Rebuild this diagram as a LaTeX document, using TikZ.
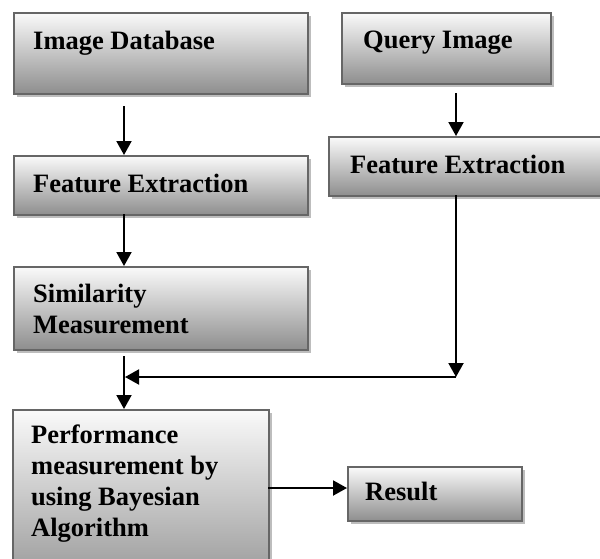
\documentclass[tikz,border=0pt]{standalone}
\usepackage{fontspec}
\setmainfont{Liberation Serif}
\usetikzlibrary{arrows.meta,shadows}

\definecolor{boxtop}{HTML}{FAFAFA}
\definecolor{boxbot}{HTML}{8E8E8E}
\definecolor{boxline}{HTML}{666666}
\definecolor{boxshadow}{HTML}{BDBDBD}

\tikzset{
  box/.style={anchor=north west, inner sep=0pt, draw=boxline, line width=1.5pt,
    top color=boxtop, bottom color=boxbot,
    drop shadow={shadow xshift=3pt, shadow yshift=-3pt, fill=boxshadow, opacity=1}},
  lbl/.style={anchor=base west, inner sep=0pt,
    font=\fontsize{26.5}{31}\selectfont\bfseries},
  flow/.style={line width=2pt, -{Triangle[width=15pt,length=14pt]}}
}

\begin{document}
\begin{tikzpicture}[x=1pt, y=-1pt]
  \useasboundingbox (0,0) rectangle (600,558);
  \clip (0,0) rectangle (600,558);

  % process boxes
  \node[box, minimum width=294pt, minimum height=81pt] (db)   at (13,12)  {};
  \node[box, minimum width=209pt, minimum height=71pt] (qi)   at (341,12) {};
  \node[box, minimum width=294pt, minimum height=59pt] (fe1)  at (13,155) {};
  \node[box, minimum width=280pt, minimum height=59pt] (fe2)  at (328,136) {};
  \node[box, minimum width=294pt, minimum height=83pt] (sim)  at (13,266) {};
  \node[box, minimum width=256pt, minimum height=190pt] (perf) at (12,409) {};
  \node[box, minimum width=174pt, minimum height=54pt] (res)  at (347,466) {};

  % box captions
  \node[lbl] (tdb)  at (33,49)   {Image Database};
  \node[lbl] (tqi)  at (363,48)  {Query Image};
  \node[lbl] (tfe1) at (33,192)  {Feature Extraction};
  \node[lbl] (tfe2) at (350,173) {Feature Extraction};
  \node[lbl] (tsim) at (33,302)  {\parbox[t]{260pt}{\raggedright Similarity\\Measurement}};
  \node[lbl] (tper) at (31,443)  {\parbox[t]{235pt}{\raggedright Performance\\measurement by\\using Bayesian\\Algorithm}};
  \node[lbl] (tres) at (365,500) {Result};

  % connector end points
  \coordinate (a1s) at (124,106);
  \coordinate (a1e) at (124,155);
  \coordinate (a2s) at (124,214);
  \coordinate (a2e) at (124,266);
  \coordinate (q1s) at (456,93);
  \coordinate (q1e) at (456,136);
  \coordinate (q2s) at (456,195);
  \coordinate (q2e) at (456,377);
  \coordinate (hje) at (125,377);
  \coordinate (m1s) at (124,356);
  \coordinate (m1e) at (124,409);
  \coordinate (r1s) at (268,488);
  \coordinate (r1e) at (347,488);

  % connectors
  \draw[flow] (a1s) -- (a1e);
  \draw[flow] (a2s) -- (a2e);
  \draw[flow] (q1s) -- (q1e);
  \draw[flow] (q2s) -- (q2e);
  \draw[flow] (q2e) -- (hje);
  \draw[flow] (m1s) -- (m1e);
  \draw[flow] (r1s) -- (r1e);
\end{tikzpicture}
\end{document}
